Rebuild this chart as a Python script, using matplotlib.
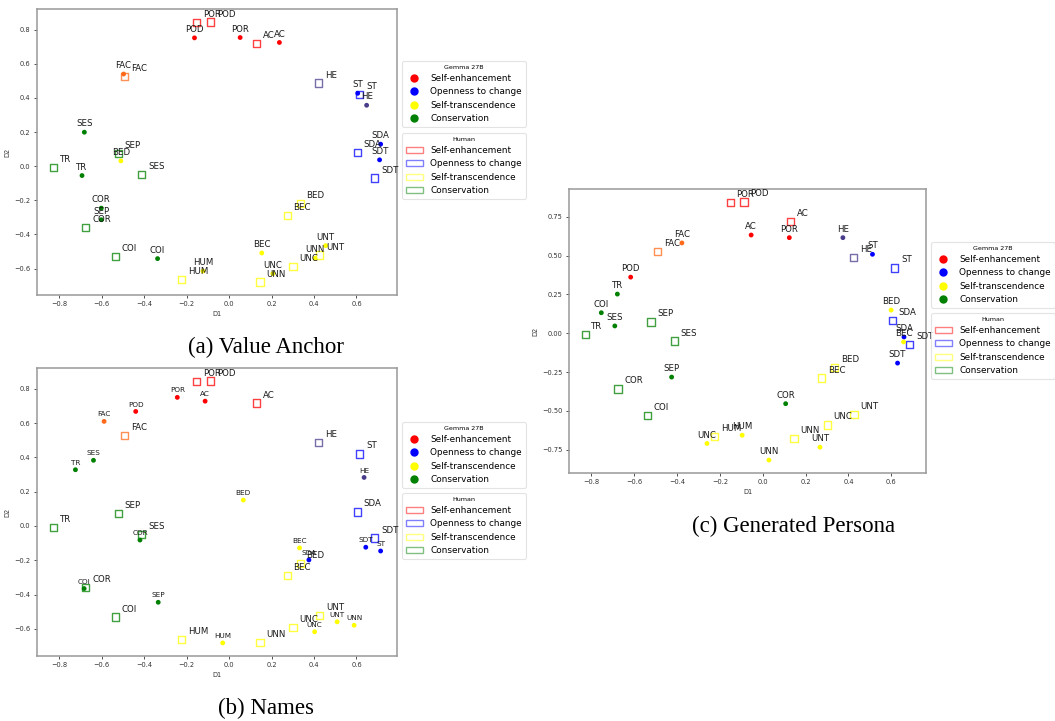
import matplotlib
matplotlib.use("Agg")
import matplotlib.pyplot as plt
from matplotlib.lines import Line2D
from matplotlib.patches import Patch
from matplotlib.ticker import MultipleLocator

# Schwartz value codes (same order in every list below)
value_codes = ["SDT", "SDA", "ST", "HE", "AC", "POD", "POR", "FAC", "SES", "SEP",
               "TR", "COR", "COI", "HUM", "BEC", "BED", "UNN", "UNC", "UNT"]

# Human reference embedding
human_d1 = [0.686, 0.604, 0.616, 0.423, 0.130, -0.087, -0.152, -0.491, -0.411, -0.521,
            -0.828, -0.675, -0.537, -0.224, 0.274, 0.335, 0.146, 0.301, 0.426]
human_d2 = [-0.070, 0.082, 0.420, 0.487, 0.717, 0.845, 0.843, 0.526, -0.050, 0.073,
            -0.008, -0.358, -0.531, -0.663, -0.288, -0.218, -0.679, -0.590, -0.521]

# Gemma 27B embedding, value-anchor prompting
anchor_d1 = [0.709, 0.714, 0.606, 0.648, 0.237, -0.163, 0.052, -0.497, -0.682, -0.602,
             -0.693, -0.602, -0.337, -0.123, 0.154, -0.510, 0.405, 0.206, 0.455]
anchor_d2 = [0.037, 0.129, 0.427, 0.357, 0.725, 0.752, 0.754, 0.540, 0.199, -0.314,
             -0.055, -0.246, -0.542, -0.615, -0.509, 0.031, -0.540, -0.630, -0.466]

# Gemma 27B embedding, name prompting
names_d1 = [0.644, 0.376, 0.714, 0.636, -0.113, -0.440, -0.244, -0.589, -0.639, -0.334,
            -0.724, -0.420, -0.683, -0.030, 0.332, 0.067, 0.589, 0.403, 0.509]
names_d2 = [-0.124, -0.198, -0.146, 0.283, 0.728, 0.668, 0.750, 0.610, 0.383, -0.445,
            0.328, -0.082, -0.365, -0.682, -0.128, 0.151, -0.579, -0.617, -0.559]

# Gemma 27B embedding, generated-persona prompting
persona_d1 = [0.629, 0.659, 0.512, 0.374, -0.054, -0.616, 0.124, -0.377, -0.690, -0.425,
              -0.678, 0.107, -0.753, -0.096, 0.657, 0.599, 0.029, -0.260, 0.267]
persona_d2 = [-0.192, -0.024, 0.508, 0.615, 0.632, 0.361, 0.615, 0.581, 0.047, -0.282,
              0.252, -0.453, 0.132, -0.656, -0.056, 0.149, -0.816, -0.709, -0.733]

group_names = ["Self-enhancement", "Openness to change", "Self-transcendence", "Conservation"]
group_colors = ["red", "blue", "yellow", "green"]

value_colors = {
    "SDT": "blue", "SDA": "blue", "ST": "blue", "HE": "#483d8b",
    "AC": "red", "POD": "red", "POR": "red", "FAC": "#ff6a1a",
    "SES": "green", "SEP": "green", "TR": "green", "COR": "green", "COI": "green",
    "HUM": "yellow", "BEC": "yellow", "BED": "yellow", "UNN": "yellow",
    "UNC": "yellow", "UNT": "yellow",
}

W, H = 1055, 721
fig = plt.figure(figsize=(W / 100, H / 100), dpi=100)
fig.patch.set_facecolor("white")


def px_axes(left, top, right, bottom):
    return fig.add_axes([left / W, 1 - bottom / H, (right - left) / W, (bottom - top) / H])


def draw_panel(ax, gx, gy, gemma_fs, human_fs, ystep):
    cols = [value_colors[c] for c in value_codes]
    ax.scatter(human_d1, human_d2, s=27, marker="s", facecolors="none",
               edgecolors=cols, linewidths=1.0, alpha=0.75, zorder=2)
    ax.scatter(gx, gy, s=12, marker="o", c=cols, linewidths=0, zorder=3)
    for code, x, y in zip(value_codes, human_d1, human_d2):
        ax.annotate(code, (x, y), xytext=(4.5, 2.5), textcoords="offset points",
                    ha="left", va="bottom", fontsize=human_fs, color="#1a1a1a", zorder=4)
    for code, x, y in zip(value_codes, gx, gy):
        ax.annotate(code, (x, y), xytext=(0, 2.8), textcoords="offset points",
                    ha="center", va="bottom", fontsize=gemma_fs, color="#1a1a1a", zorder=4)
    ax.xaxis.set_major_locator(MultipleLocator(0.2))
    ax.yaxis.set_major_locator(MultipleLocator(ystep))
    ax.tick_params(labelsize=4.8, length=2.5, width=0.6, pad=2, colors="#333333")
    ax.set_xlabel("D1", fontsize=4.8, labelpad=3, color="#333333")
    ax.set_ylabel("D2", fontsize=4.8, labelpad=3, color="#333333")
    for sp in ax.spines.values():
        sp.set_color("#999999")
        sp.set_linewidth(1.1)


def add_legends(left, top_gemma, top_human):
    gemma_handles = [Line2D([], [], marker="o", linestyle="", color=c, markersize=5)
                     for c in group_colors]
    human_handles = [Patch(facecolor="none", edgecolor=c, alpha=0.5, linewidth=1.0)
                     for c in group_colors]
    for handles, title, top in ((gemma_handles, "Gemma 27B", top_gemma),
                                (human_handles, "Human", top_human)):
        leg = fig.legend(handles, group_names, title=title, loc="upper left",
                         bbox_to_anchor=(left / W, 1 - top / H),
                         bbox_transform=fig.transFigure, borderaxespad=0,
                         fontsize=6.4, title_fontsize=4.6, frameon=True)
        leg.get_frame().set_edgecolor("#dddddd")
        leg.get_frame().set_linewidth(0.8)


ax_a = px_axes(37, 9, 397, 295)
draw_panel(ax_a, anchor_d1, anchor_d2, 6.2, 6.2, 0.2)
add_legends(402, 61, 133)

ax_b = px_axes(37, 368, 397, 656)
draw_panel(ax_b, names_d1, names_d2, 5.2, 6.2, 0.2)
add_legends(402, 422, 493)

ax_c = px_axes(569, 189, 926, 473)
draw_panel(ax_c, persona_d1, persona_d2, 6.2, 6.2, 0.25)
add_legends(931, 242, 313)

caption_font = dict(fontsize=16.5, family="Liberation Serif", ha="center", va="center")
fig.text(266 / W, 1 - 347 / H, "(a) Value Anchor", **caption_font)
fig.text(266 / W, 1 - 708 / H, "(b) Names", **caption_font)
fig.text(794 / W, 1 - 526 / H, "(c) Generated Persona", **caption_font)

fig.savefig("out.png", dpi=100)
